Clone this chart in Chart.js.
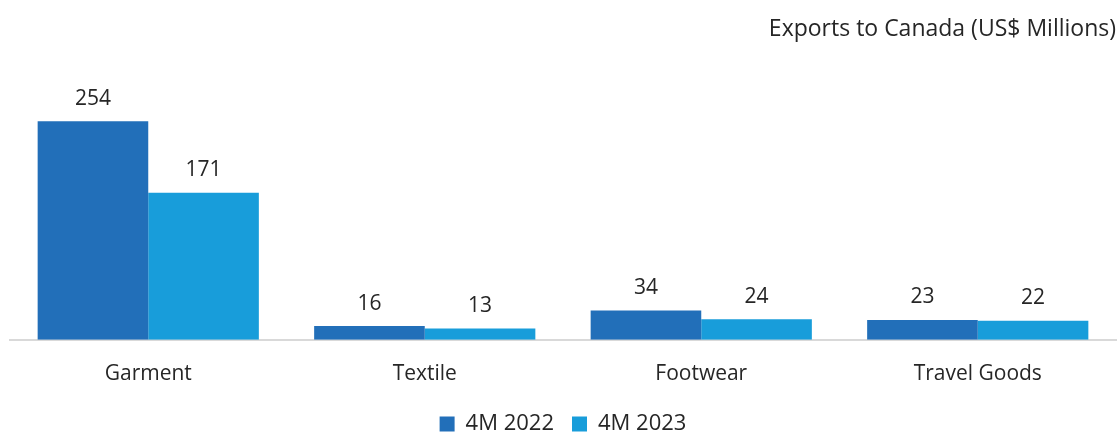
<!DOCTYPE html>
<html>
<head>
<meta charset="utf-8">
<script src="https://cdn.jsdelivr.net/npm/chart.js@4"></script>
<style>
  html, body { margin: 0; padding: 0; background: #fff; }
  #wrap { width: 1120px; height: 432px; position: relative; }
</style>
</head>
<body>
<div id="wrap"><canvas id="chart"></canvas></div>
<script>
var categories = ['Garment', 'Textile', 'Footwear', 'Travel Goods'];
var values2022 = [254, 16, 34, 23];
var values2023 = [171, 13, 24, 22];
var seriesNames = ['4M 2022', '4M 2023'];
var titleText = 'Exports to Canada (US$ Millions)';

var fontFamily = "'Open Sans', 'Noto Sans', sans-serif";

// draw the value above each bar
var barLabels = {
  id: 'barLabels',
  afterDatasetsDraw: function(chart) {
    var ctx = chart.ctx;
    ctx.save();
    ctx.fillStyle = '#262626';
    ctx.font = '21px ' + fontFamily;
    ctx.textAlign = 'center';
    ctx.textBaseline = 'bottom';
    chart.data.datasets.forEach(function(ds, i) {
      chart.getDatasetMeta(i).data.forEach(function(bar, j) {
        ctx.fillText(ds.data[j], bar.x, bar.y - 12);
      });
    });
    ctx.restore();
  }
};

var ctx = document.getElementById('chart').getContext('2d');
var chart = new Chart(ctx, {
  type: 'bar',
  data: {
    labels: categories,
    datasets: [
      { label: seriesNames[0], data: values2022, backgroundColor: '#226FB9', borderWidth: 0 },
      { label: seriesNames[1], data: values2023, backgroundColor: '#189DDA', borderWidth: 0 }
    ]
  },
  options: {
    responsive: true,
    maintainAspectRatio: false,
    animation: false,
    layout: { padding: { left: 10, right: 4, top: 0, bottom: -13 } },
    datasets: { bar: { categoryPercentage: 0.8, barPercentage: 1.0 } },
    scales: {
      x: {
        grid: { display: false, drawTicks: false },
        border: { color: '#d9d9d9', width: 2 },
        ticks: { color: '#262626', font: { family: fontFamily, size: 21 }, padding: 22 },
        afterFit: function(scale) { scale.height -= 14; }
      },
      y: {
        display: false,
        min: 0,
        max: 300
      }
    },
    plugins: {
      title: {
        display: true,
        text: titleText,
        align: 'end',
        color: '#262626',
        font: { family: fontFamily, size: 23, weight: 'normal' },
        padding: { top: 16, bottom: 38 }
      },
      legend: {
        position: 'bottom',
        labels: {
          color: '#262626',
          font: { family: fontFamily, size: 22 },
          boxWidth: 15,
          boxHeight: 15,
          padding: 18
        }
      },
      tooltip: { enabled: false }
    }
  },
  plugins: [barLabels]
});
</script>
</body>
</html>
